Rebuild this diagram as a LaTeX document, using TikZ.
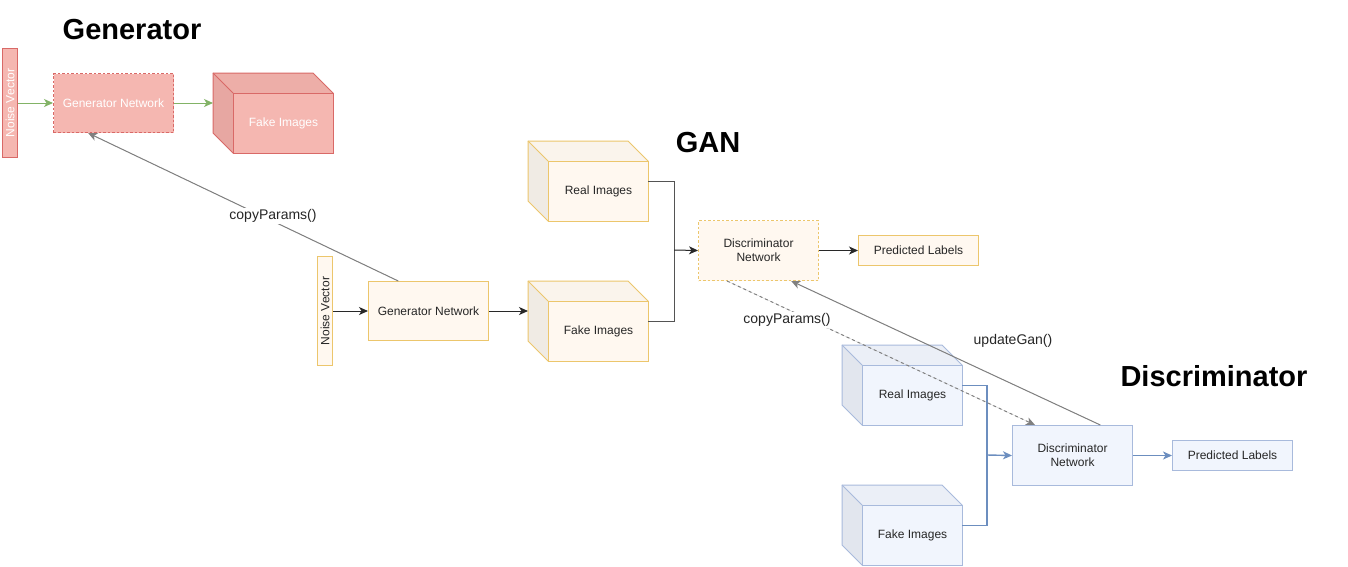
\documentclass[tikz,border=0pt]{standalone}
\usepackage{fontspec}
\setmainfont{Liberation Sans}
\usetikzlibrary{calc,arrows.meta}
\definecolor{pinkfill}{RGB}{245,183,177}
\definecolor{pinktop}{RGB}{237,174,168}
\definecolor{pinkside}{RGB}{231,167,162}
\definecolor{pinkline}{RGB}{217,105,103}
\definecolor{yelfill}{RGB}{255,248,240}
\definecolor{yeltop}{RGB}{250,244,236}
\definecolor{yelside}{RGB}{240,235,228}
\definecolor{yelline}{RGB}{236,198,108}
\definecolor{bluefill}{RGB}{241,245,253}
\definecolor{bluetop}{RGB}{235,239,247}
\definecolor{blueside}{RGB}{226,230,238}
\definecolor{blueline}{RGB}{168,186,220}
\definecolor{bluearrow}{RGB}{108,142,191}
\definecolor{greenarrow}{RGB}{130,179,102}
\definecolor{greyarrow}{RGB}{128,128,128}
\definecolor{darkline}{RGB}{40,40,40}
\tikzset{
  txt/.style={font=\fontsize{12}{14}\selectfont, text=black!85},
  wtxt/.style={font=\fontsize{12}{14}\selectfont, text=white},
  title/.style={font=\fontsize{29}{32}\selectfont\bfseries, text=black},
  elabel/.style={font=\fontsize{14}{16}\selectfont, text=black!85},
  box/.style={minimum width=120pt, minimum height=60pt, inner sep=0pt, anchor=north west, align=center, line width=1pt},
  bar/.style={minimum width=15pt, minimum height=109pt, inner sep=0pt, anchor=north west, line width=1pt},
  predbox/.style={minimum width=120pt, minimum height=30pt, inner sep=0pt, anchor=north west, line width=1pt},
  conn/.style={line width=1pt, -{Stealth[length=9pt,width=8pt,inset=2.5pt]}},
  joinline/.style={line width=1pt},
}
% name, x, y, front, top, side, stroke, textstyle, text
\newcommand{\mycube}[9]{%
  \node[minimum width=120pt, minimum height=80pt, inner sep=0pt, anchor=north west] (#1) at (#2,#3) {};
  \fill[#5] (#2,#3) -- ++(100,0) -- ++(20,20) -- ++(-100,0) -- cycle;
  \fill[#6] (#2,#3) -- ++(20,20) -- ++(0,60) -- ++(-20,-20) -- cycle;
  \draw[#7, line width=1pt, line join=round] (#2,#3) -- ++(100,0) -- ++(20,20) -- ++(0,60) -- ++(-100,0) -- ++(-20,-20) -- cycle;
  \draw[#7, line width=1pt] (#2,#3) -- ++(20,20);
  \node[#8, fill=#4, draw=#7, line width=1pt, minimum width=100pt, minimum height=60pt, inner sep=0pt, anchor=north west] (#1front) at ($(#2,#3)+(20,20)$) {#9};
}
\begin{document}
\begin{tikzpicture}[x=1pt,y=-1pt]
\useasboundingbox[fill=white] (0,0) rectangle (1348,566);

% ---------- Generator ----------
\node[title] (ttitle) at (132,30) {Generator};
\node[bar, fill=pinkfill, draw=pinkline] (tnoise) at (2,48) {};
\node[wtxt, rotate=90] (tnoisetxt) at (tnoise.center) {Noise Vector};
\node[box, fill=pinkfill, draw=pinkline, dashed, dash pattern=on 2.5pt off 2pt, wtxt, minimum height=59pt] (tgen) at (53,73) {Generator Network};
\mycube{tfake}{213}{73}{pinkfill}{pinktop}{pinkside}{pinkline}{wtxt}{Fake Images}
\draw[conn, draw=greenarrow, fill=greenarrow] (tnoise.east) -- (tgen.west);
\draw[conn, draw=greenarrow, fill=greenarrow] (tgen.east) -- (tgen.east -| tfake.west);

% ---------- GAN ----------
\node[title] (gtitle) at (708,143) {GAN};
\node[bar, fill=yelfill, draw=yelline] (gnoise) at (317,256) {};
\node[txt, rotate=90] (gnoisetxt) at (gnoise.center) {Noise Vector};
\node[box, fill=yelfill, draw=yelline, txt, minimum height=59pt] (ggen) at (368,281) {Generator Network};
\mycube{greal}{528}{141}{yelfill}{yeltop}{yelside}{yelline}{txt}{Real Images}
\mycube{gfake}{528}{281}{yelfill}{yeltop}{yelside}{yelline}{txt}{Fake Images}
\node[box, fill=yelfill, draw=yelline, dashed, dash pattern=on 2.5pt off 2pt, txt] (gdisc) at (698,220) {Discriminator\\Network};
\node[predbox, fill=yelfill, draw=yelline, txt] (gpred) at (858,235) {Predicted Labels};
\coordinate (gj) at (674,250);
\draw[conn, draw=darkline, fill=darkline] (gnoise.east) -- (ggen.west);
\draw[conn, draw=darkline, fill=darkline] (ggen.east) -- (ggen.east -| gfake.west);
\draw[joinline, draw=darkline!80] (greal.east) -| (gj);
\draw[joinline, draw=darkline!80] (gfake.east) -| (gj);
\draw[conn, draw=darkline, fill=darkline] (gj) -- (gdisc.west);
\draw[conn, draw=darkline, fill=darkline] (gdisc.east) -- (gpred.west);

% ---------- Discriminator ----------
\node[title] (dtitle) at (1214,376) {Discriminator};
\mycube{dreal}{842}{345}{bluefill}{bluetop}{blueside}{blueline}{txt}{Real Images}
\mycube{dfake}{842}{485}{bluefill}{bluetop}{blueside}{blueline}{txt}{Fake Images}
\node[box, fill=bluefill, draw=blueline, txt] (ddisc) at (1012,425) {Discriminator\\Network};
\node[predbox, fill=bluefill, draw=blueline, txt] (dpred) at (1172,440) {Predicted Labels};
\coordinate (dj) at (987,455);
\draw[joinline, draw=bluearrow, line width=1.4pt] (dreal.east) -| (dj);
\draw[joinline, draw=bluearrow, line width=1.4pt] (dfake.east) -| (dj);
\draw[conn, draw=bluearrow, fill=bluearrow, line width=1.4pt] (dj) -- (ddisc.west);
\draw[conn, draw=bluearrow, fill=bluearrow, line width=1.4pt] (ddisc.east) -- (dpred.west);

% ---------- parameter connectors ----------
\draw[conn, draw=greyarrow, fill=greyarrow] ($(ggen.north west)!0.25!(ggen.north east)$) -- ($(tgen.south west)!0.29!(tgen.south east)$);
\node[elabel, fill=white, inner sep=1pt] (lcp1) at (273,216) {copyParams()};

\draw[conn, draw=greyarrow, fill=greyarrow, dashed, dash pattern=on 3pt off 3pt] ($(gdisc.south west)!0.24!(gdisc.south east)$) -- ($(ddisc.north west)!0.19!(ddisc.north east)$);
\node[elabel, fill=white, inner sep=1pt] (lcp2) at (787,320) {copyParams()};

\draw[conn, draw=greyarrow, fill=greyarrow] ($(ddisc.north west)!0.73!(ddisc.north east)$) -- ($(gdisc.south west)!0.77!(gdisc.south east)$);
\node[elabel] (lupd) at (1013,341) {updateGan()};
\end{tikzpicture}
\end{document}
